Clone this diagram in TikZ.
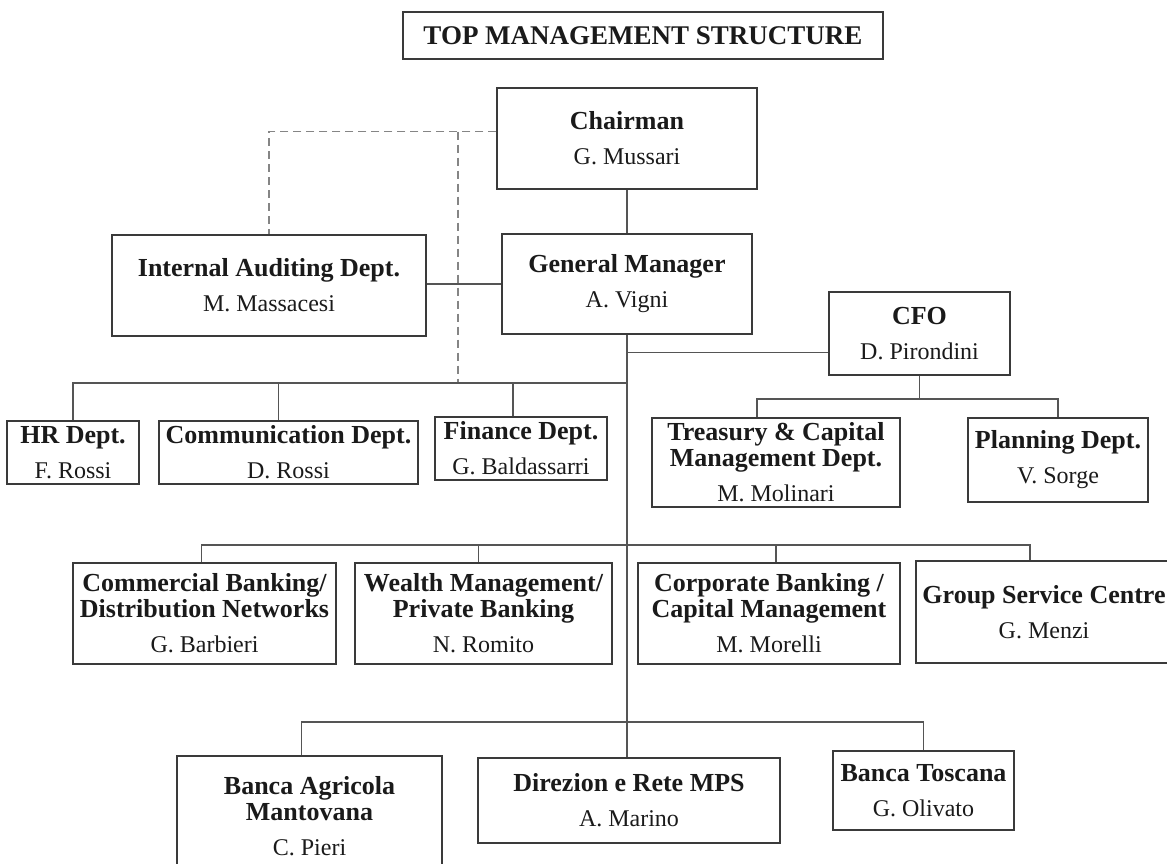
\documentclass[tikz,border=0pt]{standalone}
\usepackage{fontspec}
\setmainfont{Liberation Serif}
\definecolor{boxgray}{HTML}{3A3A3A}
\definecolor{linkgray}{HTML}{555555}
\definecolor{dashgray}{HTML}{858585}
\definecolor{inkblack}{HTML}{1A1A1A}
% bold unit title, then the person's name in regular type
\newcommand{\orgentry}[2]{{\bfseries #1}\\[9pt]{\fontsize{24}{26}\selectfont #2}}
% same with a unit title on two lines
\newcommand{\orgentrytwo}[3]{{\bfseries #1}\\{\bfseries #2}\\[9pt]{\fontsize{24}{26}\selectfont #3}}
\begin{document}
\begin{tikzpicture}[x=1pt,y=-1pt,
  orgbox/.style={draw=boxgray, line width=1.2pt, inner sep=0pt, align=center,
    text=inkblack, font=\fontsize{26}{26}\selectfont},
  link/.style={draw=linkgray, line width=1.1pt},
  dotlink/.style={draw=dashgray, line width=1.1pt, dash pattern=on 8pt off 5pt}]
\useasboundingbox (0,0) rectangle (1167,863);
\clip (0,0) rectangle (1167,863);

% title
\node[orgbox, minimum width=480pt, minimum height=47pt,
  font=\fontsize{27}{27}\selectfont\bfseries] (title) at (643,35.5)
  {TOP MANAGEMENT STRUCTURE};

% top levels
\node[orgbox, minimum width=260pt, minimum height=101pt] (chair) at (627,138.5)
  {\orgentry{Chairman}{G. Mussari}};
\node[orgbox, minimum width=250pt, minimum height=100pt] (gm) at (627,284)
  {\orgentry{General Manager}{A. Vigni}};
\node[orgbox, minimum width=314pt, minimum height=101pt] (ia) at (269,285.5)
  {\orgentry{Internal Auditing Dept.}{M. Massacesi}};
\node[orgbox, minimum width=181pt, minimum height=83pt] (cfo) at (919.5,333.5)
  {\orgentry{CFO}{D. Pirondini}};

% staff departments
\node[orgbox, minimum width=132pt, minimum height=63pt] (hr) at (73,452.5)
  {\orgentry{HR Dept.}{F. Rossi}};
\node[orgbox, minimum width=259pt, minimum height=63pt] (comm) at (288.5,452.5)
  {\orgentry{Communication Dept.}{D. Rossi}};
\node[orgbox, minimum width=172pt, minimum height=63pt] (fin) at (521,448.5)
  {\orgentry{Finance Dept.}{G. Baldassarri}};
\node[orgbox, minimum width=248pt, minimum height=89pt] (treas) at (776,462.5)
  {\orgentrytwo{Treasury \& Capital}{Management Dept.}{M. Molinari}};
\node[orgbox, minimum width=180pt, minimum height=84pt] (plan) at (1058,460)
  {\orgentry{Planning Dept.}{V. Sorge}};

% business areas
\node[orgbox, minimum width=263pt, minimum height=101pt] (cb) at (204.5,613.5)
  {\orgentrytwo{Commercial Banking/}{Distribution Networks}{G. Barbieri}};
\node[orgbox, minimum width=257pt, minimum height=101pt] (wm) at (483.5,613.5)
  {\orgentrytwo{Wealth Management/}{Private Banking}{N. Romito}};
\node[orgbox, minimum width=262pt, minimum height=101pt] (corp) at (769,613.5)
  {\orgentrytwo{Corporate Banking /}{Capital Management}{M. Morelli}};
\node[orgbox, minimum width=256pt, minimum height=102pt] (gsc) at (1044,612)
  {\orgentry{Group Service Centre}{G. Menzi}};

% banks
\node[orgbox, minimum width=265pt, minimum height=120pt] (bam) at (309.5,816)
  {\orgentrytwo{Banca Agricola}{Mantovana}{C. Pieri}};
\node[orgbox, minimum width=302pt, minimum height=85pt] (dir) at (629,800.5)
  {\orgentry{Direzion e Rete MPS}{A. Marino}};
\node[orgbox, minimum width=181pt, minimum height=79pt] (bt) at (923.5,790.5)
  {\orgentry{Banca Toscana}{G. Olivato}};

% bus levels
\coordinate (dashy) at (0,131.7);
\coordinate (dashdrop) at (458,131.7);
\coordinate (cfoy) at (0,352.7);
\coordinate (staffbus) at (0,383);
\coordinate (cfobus) at (0,399);
\coordinate (areabus) at (0,545);
\coordinate (bankbus) at (0,722);

% dashed reporting lines from the Chairman
\draw[dotlink] (chair.west |- dashy) -| (ia.north);
\draw[dotlink] (dashdrop) -- (dashdrop |- staffbus);

% main trunk
\draw[link] (chair.south) -- (gm.north);
\draw[link] (ia.east |- gm.west) -- (gm.west);
\draw[link] (gm.south) -- (gm.south |- dir.north);
\draw[link] (gm.south |- cfoy) -- (cfo.west |- cfoy);

% staff departments
\draw[link] (hr.north) |- (gm.south |- staffbus);
\draw[link] ([xshift=-10pt]comm.north) -- ([xshift=-10pt]comm.north |- staffbus);
\draw[link] ([xshift=-8pt]fin.north) -- ([xshift=-8pt]fin.north |- staffbus);

% CFO departments
\draw[link] (cfo.south) -- (cfo.south |- cfobus);
\draw[link] ([xshift=-19pt]treas.north) |- (plan.north |- cfobus) -- (plan.north);

% business areas
\draw[link] ([xshift=-3pt]cb.north) |- ([xshift=-14pt]gsc.north |- areabus) -- ([xshift=-14pt]gsc.north);
\draw[link] ([xshift=-5pt]wm.north) -- ([xshift=-5pt]wm.north |- areabus);
\draw[link] ([xshift=7pt]corp.north) -- ([xshift=7pt]corp.north |- areabus);

% banks
\draw[link] ([xshift=-8pt]bam.north) |- (bt.north |- bankbus) -- (bt.north);
\end{tikzpicture}
\end{document}
